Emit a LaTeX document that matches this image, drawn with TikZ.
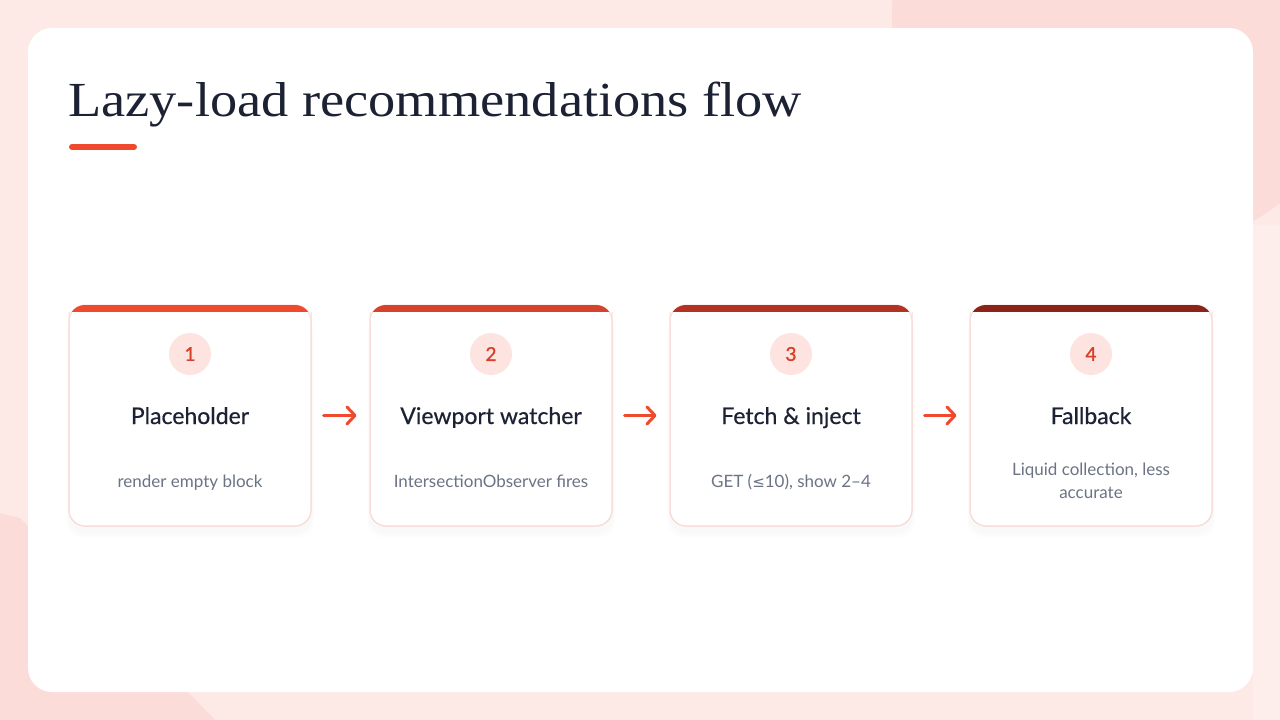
\documentclass[tikz,border=0pt]{standalone}
\usepackage{fontspec}
\setmainfont{Lato}
\newfontfamily\titlefont[FakeStretch=1.11]{Liberation Serif}
\newfontfamily\medfont[FakeBold=0.5]{Lato}
\newfontfamily\numfont[FakeBold=1.2]{Lato}
\newfontfamily\symfont{DejaVu Sans}
\usetikzlibrary{arrows.meta}
\definecolor{bgbase}{HTML}{FDE9E6}
\definecolor{bgdark}{HTML}{FCDCD8}
\definecolor{bglight}{HTML}{FDEDEB}
\definecolor{cardborder}{HTML}{FADAD4}
\definecolor{barA}{HTML}{F04A2E}
\definecolor{barB}{HTML}{D6432D}
\definecolor{barC}{HTML}{B23224}
\definecolor{barD}{HTML}{8A2418}
\definecolor{numfill}{HTML}{FDE4E0}
\definecolor{numtext}{HTML}{D63F29}
\definecolor{ink}{HTML}{1C2233}
\definecolor{subink}{HTML}{6B7384}
\definecolor{accent}{HTML}{F04A2E}
\tikzset{
  cardbox/.style={draw=cardborder, line width=1pt, fill=white, rounded corners=16pt,
    minimum width=242pt, minimum height=221pt, inner sep=0pt},
  numdisc/.style={circle, fill=numfill, minimum size=42pt, inner sep=0pt,
    text=numtext, font=\numfont\fontsize{19}{22}\selectfont},
  steptitle/.style={anchor=base, text=ink, font=\medfont\fontsize{23}{26}\selectfont, inner sep=0pt},
  stepsub/.style={anchor=base, text=subink, font=\fontsize{17}{23}\selectfont, align=center, inner sep=0pt},
  flowarrow/.style={draw=accent, line width=3pt, line cap=round,
    -{Straight Barb[length=8pt,width=17pt,line cap=round,line join=round]},
    shorten <=12pt, shorten >=13pt},
}
\begin{document}
\begin{tikzpicture}[x=1pt,y=-1pt]
\useasboundingbox (0,0) rectangle (1280,720);
% background
\fill[bgbase] (0,0) rectangle (1280,720);
\fill[bgdark] (1132,14) circle (240);
\fill[bgdark] (-60,500) -- (20,518) -- (215,720) -- (-60,760) -- cycle;
\fill[bglight] (1253,225) rectangle (1280,720);
% main white panel
\fill[white, rounded corners=24pt] (28,28) rectangle (1253,692);
% heading
\node[anchor=base west, inner sep=0pt, text=ink, font=\titlefont\fontsize{49}{56}\selectfont] (heading) at (68,116) {Lazy-load recommendations flow};
\draw[accent, line width=6pt, line cap=round] (72,147) -- (134,147);
% cards
\foreach \i/\cx/\bar in {1/190/barA, 2/491/barB, 3/791/barC, 4/1091/barD}{
  \foreach \k in {1,...,6}{
    \fill[black, opacity=0.004, rounded corners=16pt] (\cx-121-\k/2,305+\k+6) rectangle (\cx+121+\k/2,526+\k+6);
  }
  \node[cardbox] (c\i) at (\cx,415.5) {};
  \begin{scope}
    \clip[rounded corners=16pt] (\cx-121,305) rectangle (\cx+121,526);
    \fill[\bar] (\cx-122,304) rectangle (\cx+122,312);
  \end{scope}
  \draw[cardborder, line width=1pt, rounded corners=16pt] (\cx-121,312) -- (\cx-121,526) -- (\cx+121,526) -- (\cx+121,312);
  \node[numdisc] (n\i) at (\cx,354) {\i};
}
\node[steptitle] (t1) at (190,424) {Placeholder};
\node[steptitle] (t2) at (491,424) {Viewport watcher};
\node[steptitle] (t3) at (791,424) {Fetch \& inject};
\node[steptitle] (t4) at (1091,424) {Fallback};
\node[stepsub] (s1) at (190,487) {render empty block};
\node[stepsub] (s2) at (491,487) {IntersectionObserver fires};
\node[stepsub] (s3) at (791,487) {GET ({\symfont\fontsize{15}{16}\selectfont ≤}10), show 2–4};
\node[stepsub] (s4) at (1091,498) {Liquid collection, less\\accurate};
% connectors
\draw[flowarrow] (c1.east) -- (c2.west);
\draw[flowarrow] (c2.east) -- (c3.west);
\draw[flowarrow] (c3.east) -- (c4.west);
\end{tikzpicture}
\end{document}
